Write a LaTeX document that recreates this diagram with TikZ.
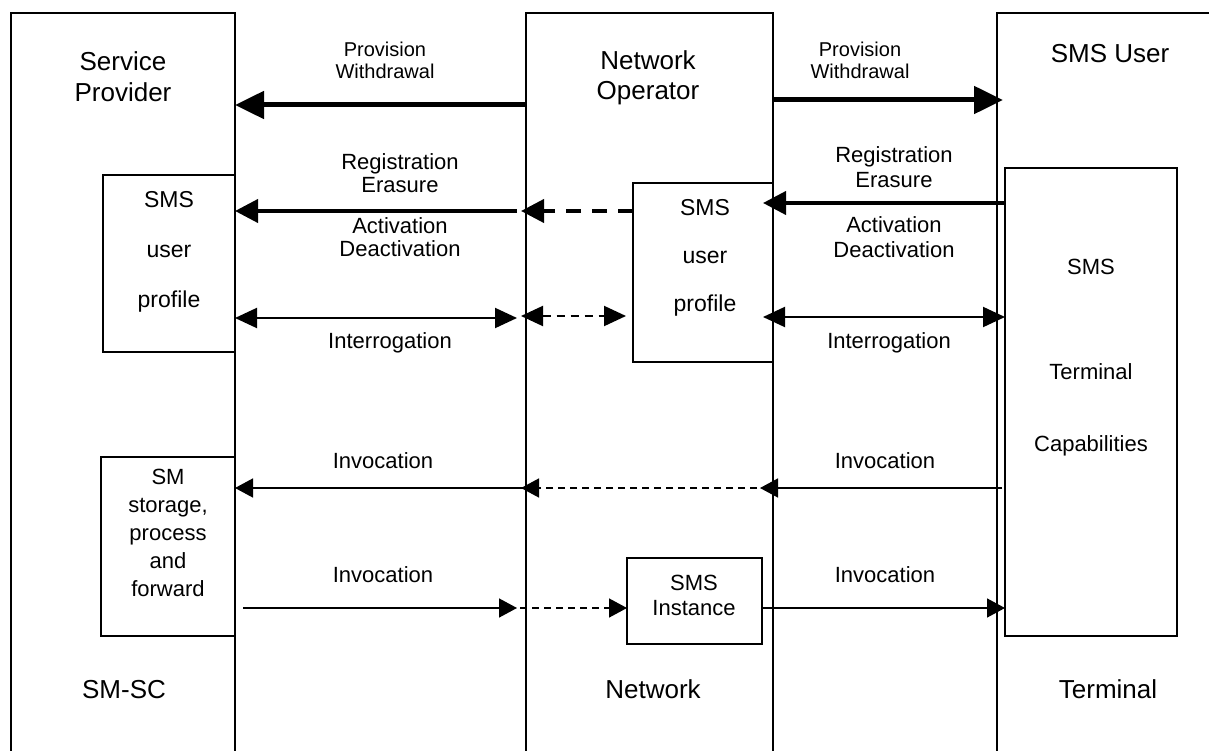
\documentclass[tikz,border=0pt]{standalone}
\usepackage{fontspec}
\setmainfont{Liberation Sans}
\usetikzlibrary{arrows.meta}
\begin{document}
\begin{tikzpicture}[x=1pt,y=-1pt,
  box/.style={draw,line width=1.2pt,inner sep=0pt,outer sep=0pt,anchor=north west},
  hd/.style={font=\fontsize{26}{31}\selectfont,align=center,anchor=base,inner sep=0pt},
  lb/.style={font=\fontsize{22}{24}\selectfont,align=center,anchor=base,inner sep=0pt},
  pv/.style={font=\fontsize{20}{22}\selectfont,align=center,anchor=base,inner sep=0pt},
  thickA/.style={line width=5pt,-{Triangle[length=29pt,width=27pt]}},
  medA/.style={line width=4pt,-{Triangle[length=23pt,width=23pt]}},
  medD/.style={medA,dash pattern=on 15pt off 11pt},
  intA/.style={line width=2pt,{Triangle[length=22pt,width=20pt]}-{Triangle[length=22pt,width=20pt]}},
  intD/.style={intA,dash pattern=on 8pt off 6pt},
  invA/.style={line width=1.5pt,-{Triangle[length=18pt,width=19pt]}},
  invD/.style={invA,dash pattern=on 7pt off 5pt}]
\useasboundingbox[fill=white] (0,0) rectangle (1209,751);
\clip (0,0) rectangle (1209,751);
% outer columns
\node[box,minimum width=224pt,minimum height=770pt] (sp) at (11,13) {};
\node[box,minimum width=247pt,minimum height=770pt] (no) at (526,13) {};
\node[box,minimum width=240pt,minimum height=770pt] (su) at (997,13) {};
% inner boxes
\node[box,minimum width=132pt,minimum height=177pt] (spp) at (103,175) {};
\node[box,minimum width=134pt,minimum height=179pt] (sms) at (101,457) {};
\node[box,minimum width=140pt,minimum height=179pt] (np) at (633,183) {};
\node[box,minimum width=135pt,minimum height=86pt] (inst) at (627,558) {};
\node[box,minimum width=172pt,minimum height=468pt] (term) at (1005,168) {};
% headings (anchor = baseline of last line)
\node[hd] (spt) at (123,102) {Service\\Provider};
\node[hd,font=\fontsize{26}{30}\selectfont] (nott) at (648,100) {Network\\Operator};
\node[hd] (sut) at (1110,63) {SMS User};
\node[hd] (smsct) at (124,698) {SM-SC};
\node[hd] (nett) at (653,698) {Network};
\node[hd] (termt) at (1108,698) {Terminal};
% box texts
\node[lb,font=\fontsize{23}{50}\selectfont] (sppt) at (169,307) {SMS\\user\\profile};
\node[lb,font=\fontsize{23}{48}\selectfont] (npt) at (705,311) {SMS\\user\\profile};
\node[lb,font=\fontsize{22}{28}\selectfont] (smst) at (168,596) {SM\\storage,\\process\\and\\forward};
\node[lb,font=\fontsize{22}{25}\selectfont] (instt) at (694,615) {SMS\\Instance};
\node[lb,font=\fontsize{22}{26}\selectfont] (termtx) at (1091,451) {SMS\\[79pt]Terminal\\[46pt]Capabilities};
% labels
\node[pv] (pvl) at (385,79) {Provision\\Withdrawal};
\node[pv] (pvr) at (860,79) {Provision\\Withdrawal};
\node[lb,font=\fontsize{22}{23}\selectfont] (rgl) at (400,193) {Registration\\Erasure};
\node[lb,font=\fontsize{22}{24}\selectfont] (acl) at (400,257) {Activation\\Deactivation};
\node[lb,font=\fontsize{22}{25}\selectfont] (rgr) at (894,188) {Registration\\Erasure};
\node[lb,font=\fontsize{22}{25}\selectfont] (acr) at (894,258) {Activation\\Deactivation};
\node[lb] (itl) at (390,348) {Interrogation};
\node[lb] (itr) at (889,348) {Interrogation};
\node[lb] (iv1l) at (383,468) {Invocation};
\node[lb] (iv1r) at (885,468) {Invocation};
\node[lb] (iv2l) at (383,582) {Invocation};
\node[lb] (iv2r) at (885,582) {Invocation};
% provision / withdrawal
\draw[thickA] (no.west |- 0,105) -- (sp.east |- 0,105);
\draw[thickA,shorten >=-6pt] (no.east |- 0,100) -- (su.west |- 0,100);
% registration / activation
\draw[medA,shorten <=9pt] (no.west |- 0,211) -- (sp.east |- 0,211);
\draw[medD,shorten >=-5pt] (np.west |- 0,211) -- (no.west |- 0,211);
\draw[medA,shorten >=-10pt] (term.west |- 0,203) -- (no.east |- 0,203);
% interrogation
\draw[intA,shorten >=9pt] (sp.east |- 0,318) -- (no.west |- 0,318);
\draw[intD,shorten <=-5pt,shorten >=7pt] (no.west |- 0,316) -- (np.west |- 0,316);
\draw[intA,shorten <=-10pt] (no.east |- 0,317) -- (term.west |- 0,317);
% invocation (to SM-SC)
\draw[invA] (no.west |- 0,488) -- (sp.east |- 0,488);
\draw[invD,shorten <=16pt,shorten >=-5pt] (no.east |- 0,488) -- (no.west |- 0,488);
\draw[invA,shorten <=3pt,shorten >=-13pt] (term.west |- 0,488) -- (no.east |- 0,488);
% invocation (from SM-SC)
\draw[invA,shorten <=8pt,shorten >=9pt] (sp.east |- 0,608) -- (no.west |- 0,608);
\draw[invD,shorten <=-6pt] (no.west |- 0,608) -- (inst.west |- 0,608);
\draw[invA] (inst.east |- 0,608) -- (term.west |- 0,608);
\end{tikzpicture}
\end{document}
